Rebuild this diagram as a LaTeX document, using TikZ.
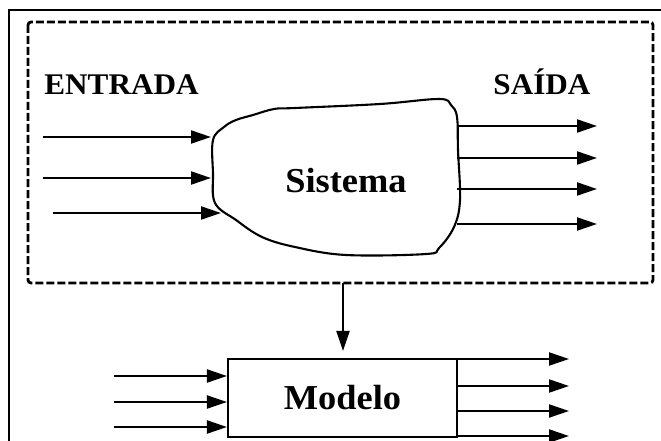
\documentclass[tikz,border=0pt]{standalone}
\usepackage{fontspec}
\setmainfont{Liberation Serif}[FakeStretch=1.04]
\usetikzlibrary{arrows.meta,positioning}

\begin{document}
\begin{tikzpicture}[x=1pt, y=-1pt, line width=2.1pt,
    seta/.style={-{Triangle[length=20pt,width=13pt]}},
    rotulo/.style={font=\bfseries\fontsize{30}{34}\selectfont, inner sep=0pt, anchor=base},
    titulo/.style={font=\bfseries\fontsize{35}{40}\selectfont, inner sep=0pt}]
        \useasboundingbox (0,0) rectangle (661,441);
        \draw (9,441) -- (9,10) -- (661,10);
        \draw[dash pattern=on 8pt off 3pt, line width=2.8pt, rounded corners=3pt] (28,22) rectangle (653,283);

        \node[rotulo] (entrada) at (121.5,95) {ENTRADA};
        \node[rotulo] (saida) at (542,95) {SAÍDA};

        \draw plot[smooth cycle, tension=0.6] coordinates {
            (213,140) (224,127) (236,120) (253,115) (274,109) (295,108)
            (380,104) (439,99) (451,105) (457,117) (458,150) (460,200)
            (454,227) (439,248) (426,254) (346,255) (295,247) (262,237)
            (236,220) (215,203) (213,173)};
        \node[titulo, anchor=base] (sistema) at (346,192) {Sistema};

        \foreach \y/\xa/\xb [count=\i] in {137/43/211, 178/43/211, 213/53/221} {
            \coordinate (in\i) at (\xa,\y);
            \coordinate (sis\i) at (\xb,\y);
            \draw[seta] (in\i) -- (sis\i);
        }
        \foreach \y [count=\i] in {126,158,189,224} {
            \coordinate (so\i) at (457,\y);
            \coordinate (out\i) at (597,\y);
            \draw[seta] (so\i) -- (out\i);
        }

        \node[draw, titulo, minimum width=229pt, minimum height=78pt] (modelo) at (342.5,398) {Modelo};
        \coordinate (borda) at (343,283);
        \draw[seta, shorten >=7pt] (borda) -- (borda |- modelo.north);

        \foreach \y [count=\i] in {376,402,427} {
            \coordinate (mi\i) at (114,\y);
            \draw[seta] (mi\i) -- (mi\i -| modelo.west);
        }
        \foreach \y [count=\i] in {359,386,411,436} {
            \coordinate (mo\i) at (569,\y);
            \draw[seta] (mo\i -| modelo.east) -- (mo\i);
        }
    \end{tikzpicture}
\end{document}
